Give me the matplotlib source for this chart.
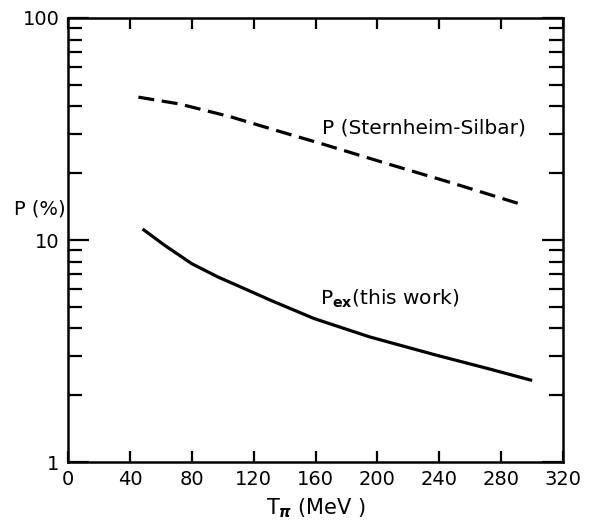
import matplotlib
matplotlib.use("Agg")
from matplotlib import pyplot as plt
from matplotlib.ticker import LogLocator, NullFormatter, FixedLocator
import numpy as np

# curves
t_ss = [45.5, 72, 105, 137, 165, 206, 249, 294]
p_ss = [44.0, 41.0, 35.9, 30.8, 27.0, 22.1, 18.0, 14.4]

t_ex = [49, 62.5, 80, 97, 114, 131, 159, 195, 238, 271, 299]
p_ex = [11.1, 9.46, 7.82, 6.81, 6.04, 5.35, 4.43, 3.66, 3.03, 2.64, 2.34]

x_ticks = [0, 40, 80, 120, 160, 200, 240, 280, 320]
y_ticks = [1, 10, 100]
y_labels = ["1", "10", "100"]

plt.rcParams['font.family'] = ['DejaVu Sans']

fig = plt.figure(figsize=(5.89, 5.23), dpi=100)
ax = fig.add_axes([0.1155, 0.1166, 0.8405, 0.849])

ax.plot(t_ss, p_ss, color='black', lw=2.3, ls=(0, (5, 2.4)))
ax.plot(t_ex, p_ex, color='black', lw=2.3)

ax.set_yscale('log')
ax.set_xlim(0, 320)
ax.set_ylim(1, 100)

ax.xaxis.set_major_locator(FixedLocator(x_ticks))
ax.set_xticklabels([str(v) for v in x_ticks])
ax.yaxis.set_major_locator(FixedLocator(y_ticks))
ax.set_yticklabels(y_labels)
ax.yaxis.set_minor_locator(LogLocator(base=10, subs=np.arange(2, 10)))
ax.yaxis.set_minor_formatter(NullFormatter())

ax.tick_params(axis='both', which='both', direction='in', top=True, right=True,
               width=1.6, labelsize=14, pad=6)
ax.tick_params(axis='x', which='major', length=8)
ax.tick_params(axis='y', which='major', length=15)
ax.tick_params(axis='y', which='minor', length=10)
for s in ax.spines.values():
    s.set_linewidth(1.8)

ax.text(-0.005, 0.57, "P (%)", transform=ax.transAxes, ha='right', va='center',
        fontsize=14)
ax.set_xlabel(r"T$_{\boldsymbol{\pi}}$ (MeV )", fontsize=15, labelpad=5)

ax.text(164, 30.3, "P (Sternheim-Silbar)", fontsize=14.5, ha='left', va='baseline')
ax.text(163, 5.1, r"P$_{\mathbf{ex}}$(this work)", fontsize=14.5, ha='left', va='baseline')

fig.savefig("out.png", dpi=100)
